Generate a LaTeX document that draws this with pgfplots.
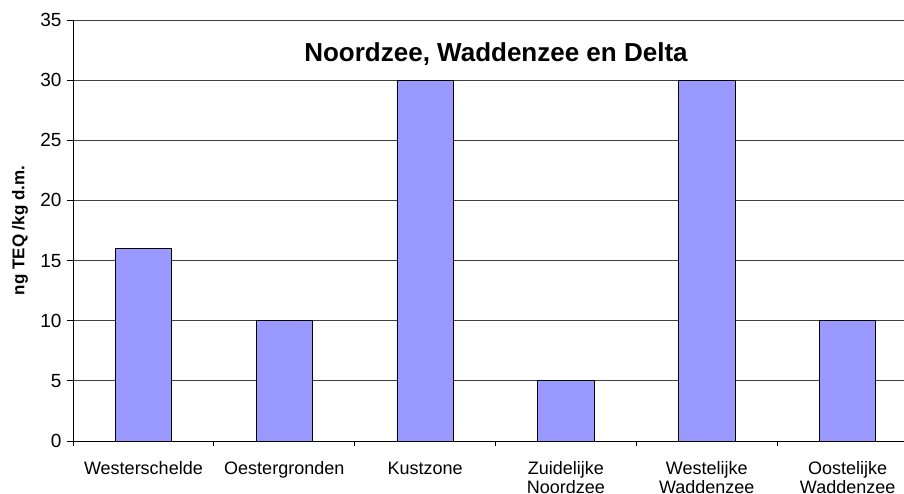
\documentclass[border=0pt]{standalone}
\usepackage{pgfplots}
\pgfplotsset{compat=1.18}
\usepackage{fontspec}
\setmainfont{Liberation Sans}
\definecolor{barblue}{HTML}{9999FF}
\begin{document}
\begin{tikzpicture}[x=1pt,y=1pt]
\path[use as bounding box] (0,0) rectangle (904,493);
\begin{axis}[
  at={(73pt,52pt)}, anchor=south west,
  scale only axis, width=831pt, height=421pt,
  xmin=-0.5, xmax=5.4, ymin=0, ymax=35,
  axis x line*=bottom, axis y line*=left,
  axis line style={black, line width=0.9pt, -},
  ytick={0,5,...,35},
  ymajorgrids, grid style={black!75, line width=0.8pt},
  xtick={0,...,5},
  xticklabels={\strut Westerschelde,\strut Oestergronden,\strut Kustzone,{\strut Zuidelijke\\Noordzee},{\strut Westelijke\\Waddenzee},{\strut Oostelijke\\Waddenzee}},
  xticklabel style={align=center, anchor=north, font=\fontsize{18}{19.5}\selectfont, yshift=-10pt},
  yticklabel style={font=\fontsize{19}{21}\selectfont, xshift=-2pt},
  /pgf/number format/assume math mode=true,
  minor xtick={-0.5,0.5,...,5.5},
  tick align=outside,
  major x tick style={draw=none},
  minor tick length=5pt, major tick length=6pt,
  tick style={black, line width=0.9pt},
  ylabel={\bfseries ng TEQ /kg d.m.},
  ylabel style={font=\fontsize{17}{19}\selectfont, at={(axis description cs:-0.0638,0.5)}, anchor=center, rotate=0},
  title={\bfseries Noordzee, Waddenzee en Delta},
  title style={font=\fontsize{26}{30}\selectfont, at={(axis description cs:0.509,0.905)}, anchor=center},
  clip=false,
]
\addplot[ybar, bar width=0.4, fill=barblue, draw=black, line width=0.9pt, bar shift=0pt]
  coordinates {(0,16) (1,10) (2,30) (3,5) (4,30) (5,10)};
\end{axis}
\end{tikzpicture}
\end{document}
